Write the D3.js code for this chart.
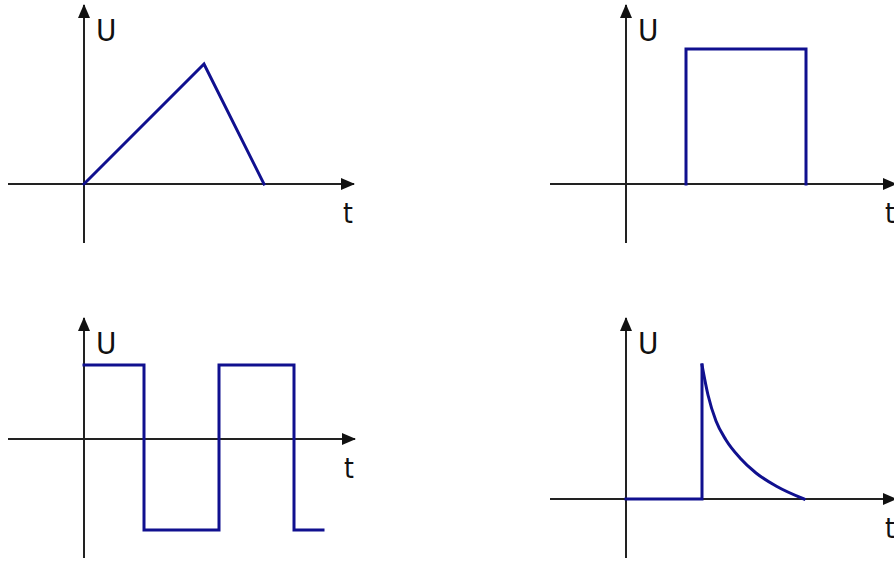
<!DOCTYPE html>
<html>
<head>
<meta charset="utf-8">
<script src="https://cdn.jsdelivr.net/npm/d3@7/dist/d3.min.js"></script>
<style>
  body { margin: 0; background: #fff; }
  svg { display: block; }
  .lbl { font-family: "Liberation Sans Narrow", "DejaVu Sans Condensed", "Liberation Sans", sans-serif; fill: #111; }
</style>
</head>
<body>
<div id="chart"></div>
<script>
// signal shapes, t / U in grid units (1 unit = 20px)
const triT = [0, 6, 9];
const triU = [0, 6, 0];

const rectT = [3, 3, 9, 9];
const rectU = [0, 6.75, 6.75, 0];

const squareT = [0, 3, 3, 6.75, 6.75, 10.5, 10.5, 11.95];
const squareU = [3.7, 3.7, -4.55, -4.55, 3.7, 3.7, -4.55, -4.55];

const stepT = [0, 3.8, 3.8];
const stepU = [0, 0, 6.7];
const decayT = [3.8, 4.1, 4.5, 5.0, 5.7, 6.5, 7.5, 8.9];
const decayU = [6.7, 5.2, 3.9, 2.95, 2.05, 1.3, 0.65, 0];

const axisLabels = ['U', 't'];

const W = 894, H = 562, unit = 20;
const blue = '#10108f';

const panels = [
  {ox: 84,  oy: 184, xr: [-3.8, 13.5], yr: [-2.95, 8.95],
   lines: [{t: triT, u: triU}]},
  {ox: 626, oy: 184, xr: [-3.8, 13.5], yr: [-2.95, 8.95],
   lines: [{t: rectT, u: rectU}]},
  {ox: 84,  oy: 439, xr: [-3.8, 13.55], yr: [-5.95, 6.05],
   lines: [{t: squareT, u: squareU}]},
  {ox: 626, oy: 499, xr: [-3.8, 13.5], yr: [-2.95, 9.05],
   lines: [{t: stepT, u: stepU}, {t: decayT, u: decayU, curve: d3.curveMonotoneX}]}
];

const svg = d3.select('#chart').append('svg')
  .attr('width', W)
  .attr('height', H);

svg.append('defs').append('marker')
    .attr('id', 'arrow')
    .attr('viewBox', '0 0 14 12')
    .attr('refX', 13)
    .attr('refY', 6)
    .attr('markerWidth', 14)
    .attr('markerHeight', 12)
    .attr('markerUnits', 'userSpaceOnUse')
    .attr('orient', 'auto')
  .append('path')
    .attr('d', 'M0,0 L14,6 L0,12 Z')
    .attr('fill', '#111');

panels.forEach(p => {
  const x = d3.scaleLinear().domain([0, 1]).range([p.ox, p.ox + unit]);
  const y = d3.scaleLinear().domain([0, 1]).range([p.oy, p.oy - unit]);
  const g = svg.append('g');

  // axes
  g.append('line')
    .attr('x1', x(p.xr[0])).attr('x2', x(p.xr[1]))
    .attr('y1', y(0)).attr('y2', y(0))
    .attr('stroke', '#222').attr('stroke-width', 2)
    .attr('marker-end', 'url(#arrow)');
  g.append('line')
    .attr('x1', x(0)).attr('x2', x(0))
    .attr('y1', y(p.yr[0])).attr('y2', y(p.yr[1]))
    .attr('stroke', '#222').attr('stroke-width', 2)
    .attr('marker-end', 'url(#arrow)');

  // signal
  p.lines.forEach(l => {
    const pts = l.t.map((t, i) => [t, l.u[i]]);
    const line = d3.line()
      .x(d => x(d[0]))
      .y(d => y(d[1]))
      .curve(l.curve || d3.curveLinear);
    g.append('path')
      .attr('d', line(pts))
      .attr('fill', 'none')
      .attr('stroke', blue)
      .attr('stroke-width', 3)
      .attr('stroke-linejoin', 'miter')
      .attr('stroke-linecap', 'square');
  });

  // labels
  g.append('text')
    .attr('class', 'lbl')
    .attr('x', x(0) + 12)
    .attr('y', y(p.yr[1]) + 36)
    .attr('font-size', 31)
    .text(axisLabels[0]);
  g.append('text')
    .attr('class', 'lbl')
    .attr('x', x(p.xr[1]) - 11)
    .attr('y', y(0) + 39)
    .attr('font-size', 28)
    .text(axisLabels[1]);
});
</script>
</body>
</html>
